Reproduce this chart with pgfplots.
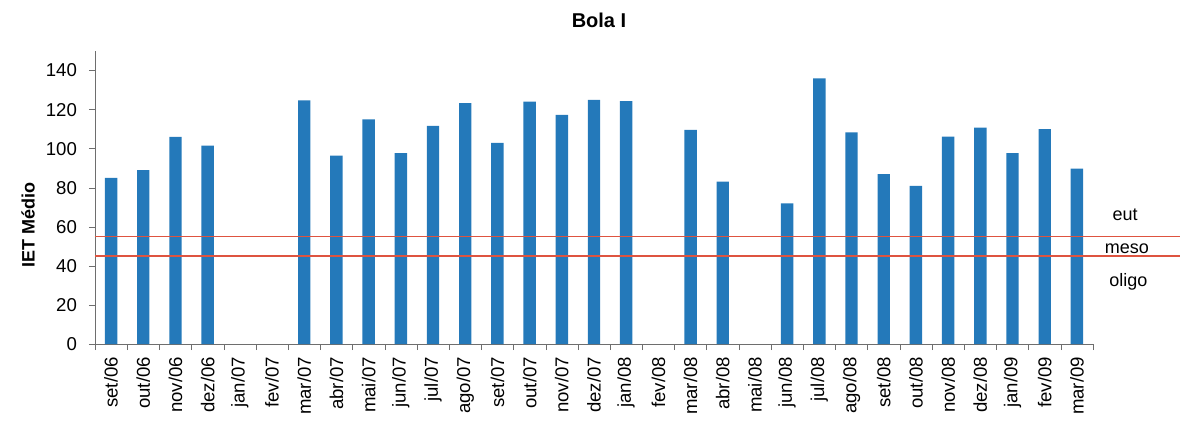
\documentclass[border=0pt]{standalone}
\usepackage{fontspec}
\setmainfont{Liberation Sans}
\usepackage{pgfplots}
\pgfplotsset{compat=1.18}
\definecolor{barblue}{RGB}{36,121,186}
\definecolor{limred}{RGB}{222,84,64}
\definecolor{axisgray}{RGB}{110,110,110}
\begin{document}
\begin{tikzpicture}
\useasboundingbox (-47.5pt,-38pt) rectangle (542.5pt,172pt);
\begin{axis}[
  at={(0,0)}, anchor=south west,
  scale only axis, width=499pt, height=146.5pt,
  xmin=-0.5, xmax=30.5, ymin=0, ymax=150,
  clip=false,
  axis x line=bottom, axis y line=left,
  axis line style={-, axisgray},
  tick align=outside,
  major tick length=3pt, minor tick length=3pt,
  tick style={axisgray},
  major x tick style={draw=none},
  ytick={0,20,...,140},
  xtick={0,...,30},
  minor xtick={-0.5,0.5,...,30.5},
  xticklabels={set/06,out/06,nov/06,dez/06,jan/07,fev/07,mar/07,abr/07,mai/07,jun/07,jul/07,ago/07,set/07,out/07,nov/07,dez/07,jan/08,fev/08,mar/08,abr/08,mai/08,jun/08,jul/08,ago/08,set/08,out/08,nov/08,dez/08,jan/09,fev/09,mar/09},
  xticklabel style={rotate=90, anchor=east, font=\fontsize{9.3}{10}\selectfont},
  yticklabel style={font=\fontsize{9.3}{10}\selectfont, xshift=-2.5pt},
  /pgf/number format/assume math mode=true,
]
% IET medio por campanha (meses sem coleta ficam vazios)
\addplot[ybar, bar width=6.2pt, fill=barblue, draw=none] coordinates {
  (0,85) (1,89) (2,106) (3,101.5)
  (6,124.7) (7,96.5) (8,115) (9,97.7) (10,111.7) (11,123.3)
  (12,103) (13,124.1) (14,117.3) (15,125) (16,124.3)
  (18,109.6) (19,83.1)
  (21,72) (22,136) (23,108.3) (24,87) (25,81) (26,106.2)
  (27,110.8) (28,97.7) (29,110) (30,89.8)
};
% limites de classe de estado trofico
\addplot[limred, line width=0.7pt] coordinates {(-0.5,55) (33.2,55)};
\addplot[limred, line width=0.7pt] coordinates {(-0.5,45) (33.2,45)};
\node[font=\fontsize{9}{10}\selectfont] at (axis cs:31.5,66) {eut};
\node[font=\fontsize{9}{10}\selectfont] at (axis cs:31.55,49) {meso};
\node[font=\fontsize{9}{10}\selectfont] at (axis cs:31.6,32) {oligo};
\node[font=\fontsize{10}{12}\selectfont\bfseries] at ([yshift=15.5pt]rel axis cs:0.505,1) {Bola I};
\node[font=\fontsize{9}{10}\selectfont\bfseries, rotate=90] at ([xshift=-33.5pt]rel axis cs:0,0.406) {IET Médio};
\end{axis}
\end{tikzpicture}
\end{document}
